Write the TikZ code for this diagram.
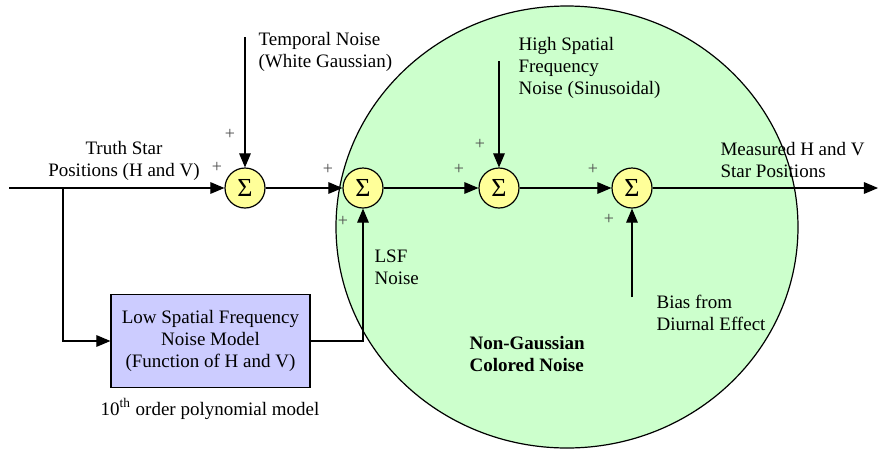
\documentclass[tikz,border=0pt]{standalone}
\usepackage{fontspec}
\setmainfont{Liberation Serif}
\usetikzlibrary{arrows}
\definecolor{sumyellow}{RGB}{255,255,153}
\definecolor{modelblue}{RGB}{204,204,255}
\definecolor{noisegreen}{RGB}{204,255,204}
\tikzset{
  sumnode/.style={circle,draw,line width=0.6pt,fill=sumyellow,minimum size=20pt,inner sep=0pt,font=\fontsize{13}{15}\selectfont},
  lbl/.style={inner sep=0pt,align=left,anchor=base west,font=\fontsize{9.5}{11}\selectfont},
  sgn/.style={inner sep=0pt,font=\fontsize{9}{10}\selectfont,text=black!70},
}

\begin{document}
\begin{tikzpicture}[>=triangle 45,x=0.5pt,y=-0.5pt,line width=0.6pt]
        \useasboundingbox (0,0) rectangle (879,452);

        % Colored noise region.
        \draw[fill=noisegreen] (567,227) ellipse [x radius=115.5pt,y radius=110.5pt];

        % Summing junctions.
        \node[sumnode] (s1) at (245,188) {Σ};
        \node[sumnode] (s2) at (363,188) {Σ};
        \node[sumnode] (s3) at (499,188) {Σ};
        \node[sumnode] (s4) at (632,188) {Σ};

        % Model block.
        \node[draw,fill=modelblue,minimum width=99.5pt,minimum height=46.5pt,inner sep=0pt,
              align=center,font=\fontsize{9.5}{11}\selectfont] (lsf) at (210.5,341)
              {Low Spatial Frequency\\Noise Model\\(Function of H and V)};
        \node[inner sep=0pt,anchor=base,font=\fontsize{9.5}{11}\selectfont] (poly) at (210,415)
              {10\textsuperscript{th} order polynomial model};

        % Free ends.
        \coordinate (in) at (9,188);
        \coordinate (out) at (878,188);
        \coordinate (split) at (63,188);
        \coordinate (tn) at (245,37);
        \coordinate (hs) at (499,61);
        \coordinate (bias) at (632,297);

        % Connections.
        \draw[->] (in) -- (s1);
        \draw[->] (split) |- (lsf);
        \draw[->] (s1) -- (s2);
        \draw[->] (s2) -- (s3);
        \draw[->] (s3) -- (s4);
        \draw[->] (s4) -- (out);
        \draw[->] (tn) -- (s1);
        \draw[->] (hs) -- (s3);
        \draw[->] (bias) -- (s4);
        \draw[->] (lsf.east) -| (s2);

        % Labels (base is the last line).
        \node[lbl,align=center,anchor=base] (truth) at (124,176) {Truth Star\\Positions (H and V)};
        \node[lbl] (tnl) at (258,67) {Temporal Noise\\(White Gaussian)};
        \node[lbl] (hsl) at (518,94) {High Spatial\\Frequency\\Noise (Sinusoidal)};
        \node[lbl] (meas) at (720,177) {Measured H and V\\Star Positions};
        \node[lbl] (lsfl) at (374,284) {LSF\\Noise};
        \node[lbl] (biasl) at (656,330) {Bias from\\Diurnal Effect};
        \node[lbl,font=\fontsize{9.5}{11}\selectfont\bfseries] (ngl) at (469,371) {Non-Gaussian\\Colored Noise};

        % Signs.
        \node[sgn] (p1a) at (230,134) {+};
        \node[sgn] (p1b) at (217,167) {+};
        \node[sgn] (p2a) at (328,169) {+};
        \node[sgn] (p2b) at (343,221) {+};
        \node[sgn] (p3a) at (459,169) {+};
        \node[sgn] (p3b) at (480,144) {+};
        \node[sgn] (p4a) at (593,169) {+};
        \node[sgn] (p4b) at (609,219) {+};
    \end{tikzpicture}
\end{document}
